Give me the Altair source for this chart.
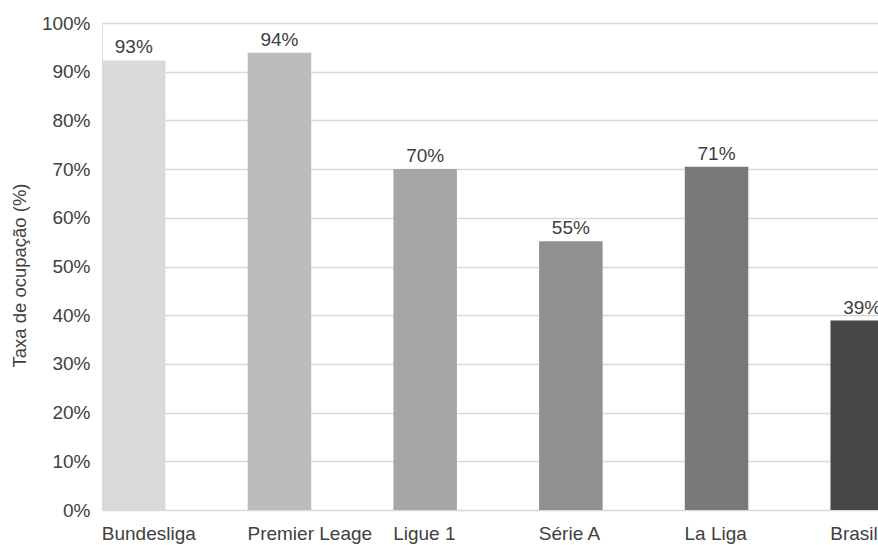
import altair as alt
import pandas as pd

leagues = ["Bundesliga", "Premier Leage", "Ligue 1", "Série A", "La Liga", "Brasil"]
values = [92.3, 93.9, 70.0, 55.2, 70.5, 38.9]
labels = ["93%", "94%", "70%", "55%", "71%", "39%"]
colors = ["#d9d9d9", "#bcbcbc", "#a6a6a6", "#909090", "#797979", "#474747"]

df = pd.DataFrame({"liga": leagues, "taxa": values, "rotulo": labels})

FONT = "Liberation Sans"

x = alt.X(
    "liga:N",
    sort=leagues,
    title=None,
    scale=alt.Scale(range=[0, 792], paddingInner=0.564, paddingOuter=0),
    axis=alt.Axis(
        labelAlign="left",
        labelOffset=-32,
        labelAngle=0,
        labelFont=FONT,
        labelFontSize=19,
        labelColor="#404040",
        labelPadding=14,
        ticks=False,
        domain=False,
        grid=False,
    ),
)

y = alt.Y(
    "taxa:Q",
    title="Taxa de ocupação (%)",
    scale=alt.Scale(domain=[0, 100], nice=False),
    axis=alt.Axis(
        values=list(range(0, 101, 10)),
        labelExpr="datum.value + '%'",
        labelFont=FONT,
        labelFontSize=19,
        labelColor="#404040",
        labelPadding=12,
        ticks=False,
        domain=False,
        gridColor="#d9d9d9",
        gridWidth=1.3,
        titleFont=FONT,
        titleFontSize=18.5,
        titleFontWeight="normal",
        titleColor="#404040",
        titlePadding=12,
        titleY=252,
    ),
)

bars = alt.Chart(df).mark_bar(clip=True).encode(
    x=x,
    y=y,
    color=alt.Color("liga:N", sort=leagues, scale=alt.Scale(domain=leagues, range=colors), legend=None),
)

text = alt.Chart(df).mark_text(
    baseline="alphabetic", dy=-7, font=FONT, fontSize=19, color="#404040", clip=True
).encode(x=x, y=y, text="rotulo:N")

chart = (
    alt.layer(bars, text)
    .properties(
        width=776,
        height=487,
        autosize=alt.AutoSizeParams(type="none"),
        padding={"left": 102, "top": 23, "right": 0, "bottom": 35},
    )
    .configure_view(stroke=None)
    .configure(background="white")
)

chart.save("out.html", embed_options={"renderer": "svg", "actions": False})
